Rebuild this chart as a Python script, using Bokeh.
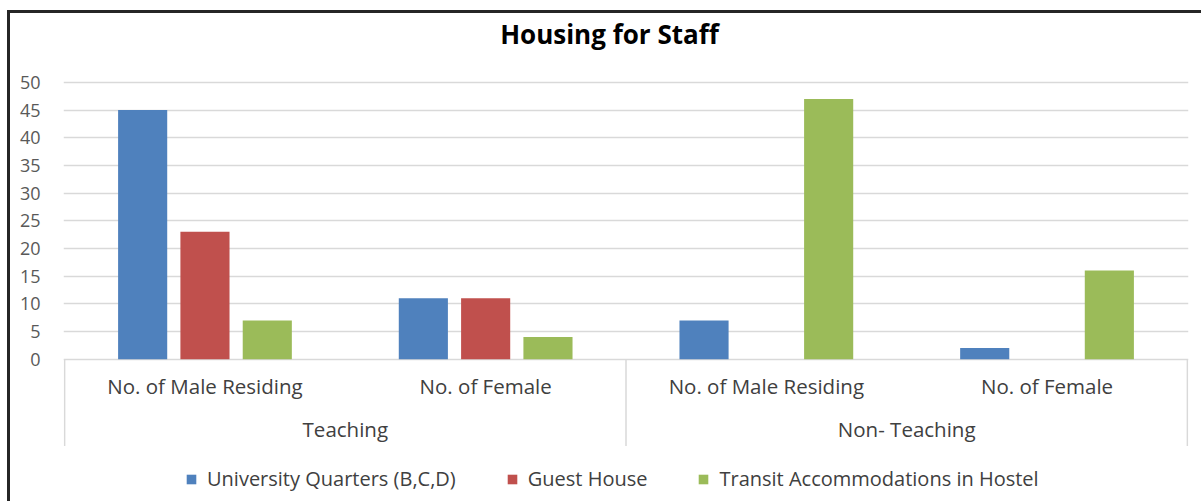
from bokeh.plotting import figure
from bokeh.models import (ColumnDataSource, FactorRange, FixedTicker, Legend,
                          LegendItem, Range1d)
from bokeh.transform import dodge
from bokeh.core.properties import value
from bokeh.embed import file_html
from bokeh.resources import INLINE

# ---------------- data ----------------
groups = ["Teaching", "Non- Teaching"]
subcats = ["No. of Male Residing", "No. of Female"]
series = ["University Quarters (B,C,D)", "Guest House",
          "Transit Accommodations in Hostel"]
university_quarters = [45, 11, 7, 2]
guest_house = [23, 11, 0, 0]
transit_hostel = [7, 4, 47, 16]
y_ticks = [0, 5, 10, 15, 20, 25, 30, 35, 40, 45, 50]
colors = ["#4F81BD", "#C0504D", "#9BBB59"]
title_text = "Housing for Staff"

FONT = "Open Sans"
W, H = 1201, 501

factors = [(g, s) for g in groups for s in subcats]
src = ColumnDataSource(dict(x=factors, uq=university_quarters,
                            gh=guest_house, th=transit_hostel))

p = figure(width=W, height=H,
           x_range=FactorRange(*factors, factor_padding=0, group_padding=0,
                               range_padding=0.002),
           y_range=Range1d(-25, 64.8),
           x_axis_location=None,
           output_backend="svg", toolbar_location=None,
           min_border_left=63, min_border_right=13,
           min_border_top=0, min_border_bottom=4)
p.outline_line_color = None
p.background_fill_color = None
p.border_fill_color = None
# chart-area border (left and top edges) painted behind the transparent canvas
p.styles = {
    "background": ("linear-gradient(#262626, #262626) 7px 10px / 3px 491px no-repeat, "
                   "linear-gradient(#262626, #262626) 7px 10px / 1194px 3px no-repeat, "
                   "#ffffff")
}

# y axis
p.yaxis.ticker = FixedTicker(ticks=y_ticks)
p.yaxis.axis_line_color = None
p.yaxis.major_tick_line_color = None
p.yaxis.minor_tick_line_color = None
p.yaxis.major_tick_out = 0
p.yaxis.major_tick_in = 0
p.yaxis.major_label_standoff = 23
p.yaxis.major_label_text_font = FONT
p.yaxis.major_label_text_font_size = "18px"
p.yaxis.major_label_text_color = "#595959"

p.xgrid.grid_line_color = None
p.ygrid.ticker = FixedTicker(ticks=y_ticks)
p.ygrid.grid_line_color = "#D9D9D9"
p.ygrid.grid_line_width = 1.5

# bars
off = 0.222
bw = 0.175
cols = ["uq", "gh", "th"]
offsets = [-off, 0.0, off]
bars = []
for c, o, col in zip(cols, offsets, colors):
    r = p.vbar(x=dodge("x", o, range=p.x_range), top=c, width=bw,
               source=src, fill_color=col, line_color=None)
    bars.append(r)

# category separators (synthetic coordinates of group boundaries)
sep_x = [i * len(subcats) for i in range(len(groups) + 1)]
p.segment(x0=sep_x, y0=[0] * len(sep_x), x1=sep_x, y1=[-15.7] * len(sep_x),
          line_color="#D9D9D9", line_width=1.5)

# category labels
p.text(x=factors, y=[-4.9] * len(factors), text=[s for g, s in factors],
       text_align="center", text_baseline="middle",
       text_font=value(FONT), text_font_size="20.5px", text_color="#404040")
p.text(x=groups, y=[-12.6] * len(groups), text=groups,
       text_align="center", text_baseline="middle",
       text_font=value(FONT), text_font_size="20.5px", text_color="#404040")

# title (drawn above the plotting area, centred over the chart)
p.text(x=[len(factors) / 2], y=[58.8], text=[title_text],
       text_align="center", text_baseline="middle", x_offset=-16.5,
       text_font=value(FONT), text_font_size="26px",
       text_font_style="bold", text_color="#000000")

# legend
legend = Legend(items=[LegendItem(label=s, renderers=[r])
                       for s, r in zip(series, bars)],
                location=(122, 5), orientation="horizontal",
                spacing=50, label_standoff=10, glyph_width=12,
                glyph_height=12, padding=0, margin=0,
                border_line_alpha=0, background_fill_alpha=0,
                label_text_font=FONT, label_text_font_size="20px",
                label_text_color="#404040")
p.add_layout(legend, "center")

open("out.html", "w").write(file_html(p, INLINE))
